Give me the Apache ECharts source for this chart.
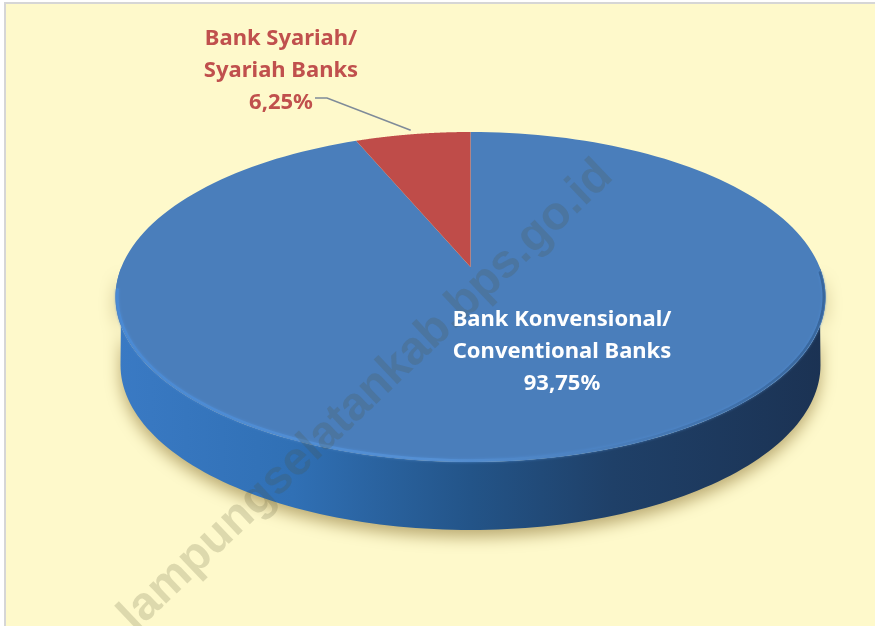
<!DOCTYPE html>
<html>
<head>
<meta charset="utf-8">
<style>html,body{margin:0;padding:0;background:#fff}#c{width:875px;height:626px}</style>
<script src="https://cdn.jsdelivr.net/npm/echarts@6/dist/echarts.min.js"></script>
</head>
<body>
<div id="c"></div>
<script>
const categories = ['Bank Konvensional/\nConventional Banks', 'Bank Syariah/\nSyariah Banks'];
const shareValues = [93.75, 6.25];
const shareLabels = ['93,75%', '6,25%'];
const sliceColors = ['#4a7ebb', '#bf4c49'];
const labelColors = ['#ffffff', '#c0504d'];
const watermarkText = 'lampungselatankab.bps.go.id';

// perspective view of the disc
const view = { cx: 470.5, apexY: 267, topY: 132, botY: 462, halfW: 355, wallCy: 365, wallRx: 350, wallRy: 165 };
const persp = (view.botY + view.topY - 2 * view.apexY) / (view.botY - view.topY);
const pa = view.topY * (1 + persp) - view.apexY;
const kx = view.halfW * Math.sqrt(1 - persp * persp);
function project(deg) {
  const t = deg * Math.PI / 180, u = Math.sin(t), v = Math.cos(t), d = 1 + persp * v;
  return [view.cx + kx * u / d, (view.apexY + pa * v) / d];
}
function projectInset(deg) {
  const p = project(deg);
  return [p[0] + (view.cx - p[0]) * 0.005, p[1] + (view.apexY - p[1]) * 0.008];
}
function wallBottom(deg) {
  const t = deg * Math.PI / 180;
  return [view.cx + view.wallRx * Math.sin(t), view.wallCy - view.wallRy * Math.cos(t)];
}
function arc(fn, a0, a1, n) {
  const out = [];
  for (let i = 0; i <= n; i++) out.push(fn(a0 + (a1 - a0) * i / n));
  return out;
}
const total = shareValues.reduce((a, b) => a + b, 0);
function angleRange(i) {
  let s = 0;
  for (let k = 0; k < i; k++) s += shareValues[k];
  return [s / total * 360, (s + shareValues[i]) / total * 360];
}
const wallGrad = { type: 'linear', x: 0, y: 0, x2: 1, y2: 0, colorStops: [
  { offset: 0, color: '#3a7ac4' }, { offset: 0.25, color: '#3070b5' }, { offset: 0.5, color: '#235488' },
  { offset: 0.7, color: '#1f4068' }, { offset: 1, color: '#1b3253' }] };
const rimGrad = { type: 'linear', x: 0, y: 0, x2: 1, y2: 0, colorStops: [
  { offset: 0, color: '#4a8ad4' }, { offset: 0.45, color: '#5590d4' }, { offset: 0.7, color: '#4a7ebb' }, { offset: 1, color: '#38669c' }] };

function renderItem(params, api) {
  const i = params.dataIndex, [a0, a1] = angleRange(i);
  const children = [];
  if (i === 0) {
    const front = arc(project, 90, 270, 120).concat(arc(wallBottom, 270, 90, 120));
    children.push({ type: 'polygon', shape: { points: front },
      style: { fill: wallGrad, shadowBlur: 16, shadowColor: 'rgba(130,105,40,0.55)', shadowOffsetY: 7 } });
  }
  const wedge = [[view.cx, view.apexY]].concat(arc(project, a0, a1, 180));
  children.push({ type: 'polygon', shape: { points: wedge }, style: { fill: sliceColors[i] } });
  if (i === 0) {
    children.push({ type: 'polyline', shape: { points: arc(projectInset, 262, 92, 120) },
      style: { fill: 'none', stroke: rimGrad, lineWidth: 2.5, lineCap: 'round', shadowBlur: 3, shadowColor: '#4f8ad0' } });
  }
  return { type: 'group', children };
}

function labelGroup(i, x, y) {
  const lines = categories[i].split('\n').concat([shareLabels[i]]);
  return lines.map((t, k) => ({ type: 'text', x: x, y: y + k * 32, z: 20,
    style: { text: t, align: 'center', verticalAlign: 'middle', fill: labelColors[i], font: 'bold 22px "Noto Sans", sans-serif' } }));
}
const mid = project((angleRange(1)[0] + angleRange(1)[1]) / 2);

const chart = echarts.init(document.getElementById('c'), null, { renderer: 'canvas' });
chart.setOption({
  animation: false,
  backgroundColor: '#ffffff',
  graphic: [
    { type: 'rect', z: -1, shape: { x: 5, y: 3, width: 880, height: 640 },
      style: { fill: '#fef9cb', stroke: '#d6d6d6', lineWidth: 2 }, silent: true },
    { type: 'polyline', z: 15, shape: { points: [[315, 98], [327, 98], [mid[0] - 2, mid[1] - 4]] },
      style: { fill: 'none', stroke: '#7f8b99', lineWidth: 1.6 } },
    { type: 'text', z: 12, x: 366, y: 396, rotation: Math.PI * 43.5 / 180,
      style: { text: watermarkText, align: 'center', verticalAlign: 'middle',
        fill: 'rgba(80,80,50,0.19)', font: 'bold 47px "Liberation Sans", Arial, sans-serif' } },
    ...labelGroup(0, 562, 320),
    ...labelGroup(1, 281, 39)
  ],
  series: [{
    type: 'custom',
    coordinateSystem: 'none',
    renderItem,
    data: categories.map((n, i) => ({ name: n, value: shareValues[i] }))
  }]
});
</script>
</body>
</html>
